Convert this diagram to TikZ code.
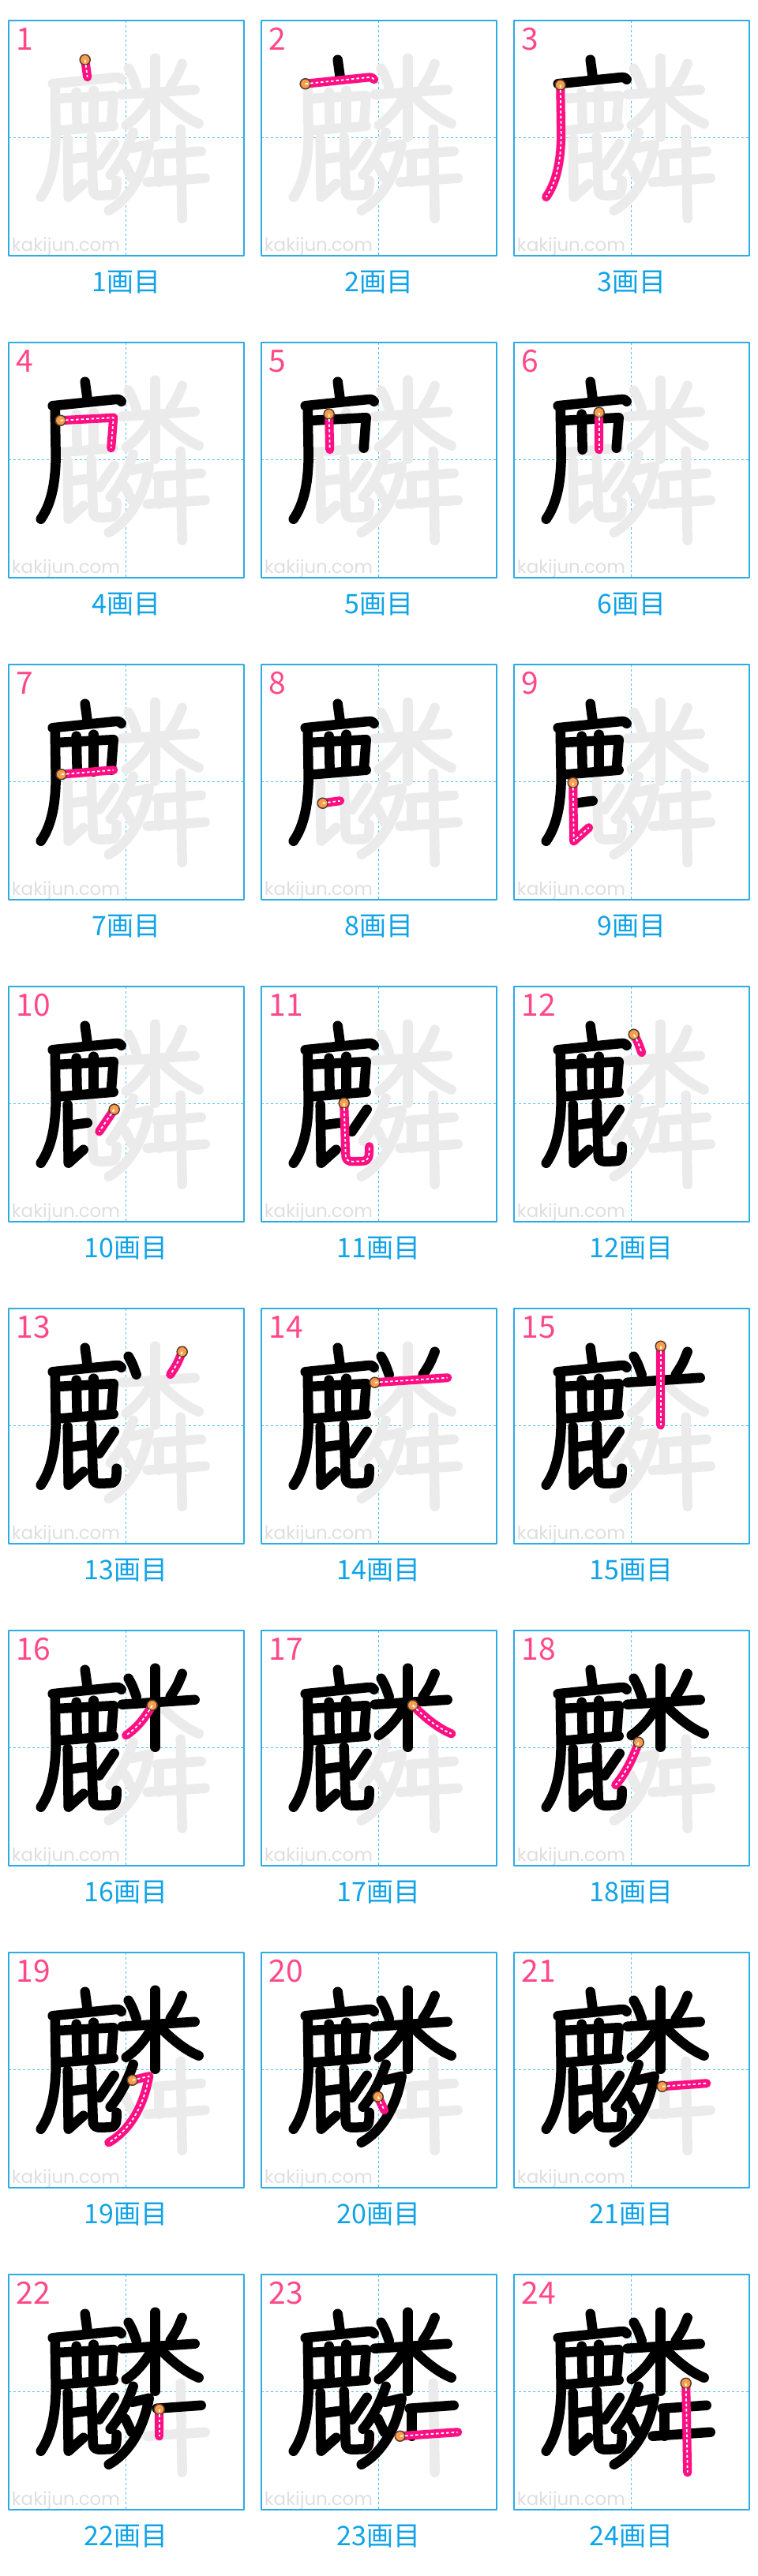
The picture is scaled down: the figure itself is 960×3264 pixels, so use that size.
\documentclass[tikz,border=0pt]{standalone}
\usepackage{fontspec}
\setmainfont{Noto Sans CJK JP}
\newfontfamily\wmfont{Poppins}
\definecolor{boxblue}{RGB}{44,172,228}
\definecolor{guideblue}{RGB}{80,190,240}
\definecolor{capblue}{RGB}{16,163,230}
\definecolor{numpink}{RGB}{255,72,136}
\definecolor{strokepink}{RGB}{255,14,132}
\definecolor{ghostgray}{RGB}{235,235,235}
\definecolor{wmgray}{RGB}{222,222,222}
\definecolor{dotorange}{RGB}{246,158,78}
\definecolor{dotbrown}{RGB}{90,58,40}
\newcommand\kanjistrokes{%
  97/50/{-- (100,72)},
  56/80.5/{-- (134,72.5) .. controls (140,72) .. (143,75)},
  59/82/{-- (60,145) .. controls (59.5,185) and (52,208) .. (41,224)},
  66/99/{-- (133,95.5) -- (130,134)},
  86/91/{-- (87,136)},
  108/89/{-- (108,136)},
  67/139.5/{-- (133,134)},
  78/176/{-- (100,173)},
  75/150/{-- (76,224) -- (95,207)},
  134/156/{-- (115,184)},
  105/148/{-- (107,212) .. controls (107,221) and (110,222) .. (118,222) -- (129,221.5) .. controls (136,221) and (137,217) .. (137,203)},
  152/61/{.. controls (157,70) .. (162,84)},
  220/55/{.. controls (214,70) .. (205,84)},
  144/94/{-- (236,88)},
  186/48/{-- (186,148)},
  182/95/{.. controls (172,113) and (161,125) .. (149,133)},
  192/95/{.. controls (208,111) and (224,124) .. (241,131)},
  158/142/{.. controls (150,165) and (140,183) .. (129,196)},
  157/162/{-- (178,157) .. controls (172,192) and (155,225) .. (127,241)},
  148/183/{-- (156,200)},
  188/170/{-- (244,166)},
  191/171/{-- (191,205)},
  176/205/{-- (249,200)},
  218/138/{-- (220,251)}}

\begin{document}
\begin{tikzpicture}[x=1pt, y=-1pt, line cap=round, line join=round,
    boxline/.style={draw=boxblue, line width=1.8pt},
    guide/.style={draw=guideblue, line width=1.5pt, dash pattern=on 3.5pt off 2.5pt, line cap=butt},
    ghost/.style={draw=ghostgray, line width=12.5pt},
    ink/.style={draw=black, line width=12.5pt},
    current/.style={draw=strokepink, line width=11pt},
    centerdots/.style={draw=white, line width=1.8pt, dash pattern=on 3.5pt off 3pt, line cap=butt},
    startdot/.style={fill=dotorange, draw=dotbrown, line width=1.5pt},
    numlabel/.style={text=numpink, font=\fontsize{39}{39}\selectfont, inner sep=0pt, anchor=base west},
    caption/.style={text=capblue, font=\fontsize{34}{34}\selectfont, inner sep=0pt},
    wmark/.style={text=wmgray, font=\wmfont\fontsize{23}{23}\selectfont, inner sep=0pt, anchor=base west}]
  \useasboundingbox (0,0) rectangle (960,3264);
  \foreach \cur in {1,...,24} {
    \pgfmathtruncatemacro\col{mod(\cur-1,3)}
    \pgfmathtruncatemacro\row{(\cur-1)/3}
    \begin{scope}[shift={(10.7+320*\col,25.7+408*\row)}]
      \node[wmark] (wm\cur) at (4,292.5) {kakijun.com};
      \draw[guide] (149,0) -- (149,298);
      \draw[guide] (0,149) -- (298,149);
      \draw[boxline] (0,0) rectangle (298,298);
      \foreach \sx/\sy/\sp in \kanjistrokes \draw[ghost] (\sx,\sy) \sp;
      \foreach \sx/\sy/\sp [count=\s] in \kanjistrokes {
        \ifnum\s<\cur \draw[ink] (\sx,\sy) \sp; \fi
        \ifnum\s=\cur
          \draw[current] (\sx,\sy) \sp;
          \draw[startdot] (\sx,\sy) circle[radius=6.5];
          \draw[centerdots] (\sx,\sy) \sp;
        \fi
      }
      \node[numlabel] (num\cur) at (10,38) {\cur};
      \node[caption] (cap\cur) at (149,332) {{\cur}画目};
    \end{scope}
  }
\end{tikzpicture}
\end{document}
